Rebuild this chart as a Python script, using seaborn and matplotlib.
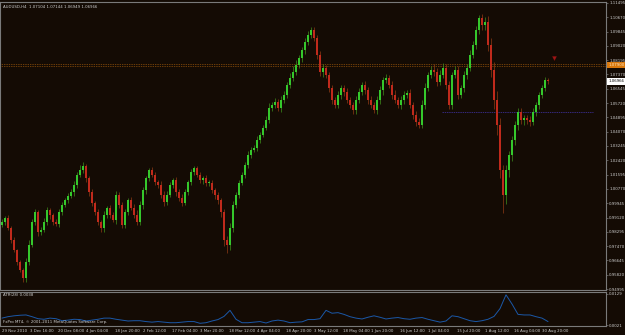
import numpy as np
import pandas as pd
import matplotlib
matplotlib.use("Agg")
import matplotlib.pyplot as plt
import seaborn as sns

sns.set_theme(style="dark")
plt.rcParams['font.family'] = ['DejaVu Sans']

# ---------------- data ----------------
first_open = 0.9870
closes = [
 0.9886,0.9909,0.9851,0.9782,0.9724,0.9655,0.9609,0.9563,0.9655,0.9753,
 0.9886,0.9944,0.9828,0.9840,0.9886,0.9955,0.9926,0.9886,0.9875,0.9944,
 0.9984,1.0013,1.0036,1.0059,1.0100,1.0157,1.0186,1.0209,1.0140,1.0059,
 0.9996,0.9944,0.9886,0.9851,0.9926,0.9967,0.9926,0.9898,1.0042,0.9984,
 0.9869,0.9944,1.0013,0.9967,0.9926,0.9886,0.9984,1.0071,1.0140,1.0186,
 1.0157,1.0117,1.0100,1.0042,1.0001,1.0042,1.0100,1.0128,1.0059,1.0025,
 0.9996,1.0059,1.0117,1.0175,1.0198,1.0157,1.0128,1.0140,1.0111,1.0111,
 1.0071,1.0042,1.0013,0.9944,0.9782,0.9753,0.9851,0.9984,1.0042,1.0111,
 1.0157,1.0215,1.0273,1.0302,1.0313,1.0359,1.0388,1.0428,1.0475,1.0544,
 1.0561,1.0578,1.0544,1.0590,1.0619,1.0677,1.0717,1.0752,1.0792,1.0832,
 1.0879,1.0925,1.0965,1.0994,1.0948,1.0850,1.0752,1.0775,1.0734,1.0659,
 1.0590,1.0561,1.0619,1.0659,1.0636,1.0590,1.0561,1.0532,1.0590,1.0636,
 1.0677,1.0648,1.0590,1.0561,1.0532,1.0590,1.0648,1.0705,1.0717,1.0677,
 1.0619,1.0590,1.0561,1.0590,1.0619,1.0630,1.0561,1.0503,1.0463,1.0446,
 1.0561,1.0659,1.0734,1.0763,1.0752,1.0694,1.0734,1.0775,1.0677,1.0561,
 1.0734,1.0763,1.0619,1.0659,1.0734,1.0775,1.0850,1.0907,1.0994,1.1063,
 1.1023,1.1040,1.0907,1.0763,1.0590,1.0446,1.0186,1.0042,1.0186,1.0273,
 1.0359,1.0446,1.0521,1.0475,1.0486,1.0475,1.0463,1.0521,1.0561,1.0619,
 1.0659,1.0705,1.0697]
wick_up_pips = [
 18,12,20,10,15,8,12,10,25,30,
 20,15,12,18,22,15,10,14,20,16,
 18,12,15,20,25,18,30,22,12,10,
 15,12,18,14,25,12,16,20,22,15,
 18,15,12,20,25,30,22,15,12,14,
 16,18,12,20,25,22,15,12,18,16,
 20,15,14,18,12,10,15,12,20,18,
 15,12,16,10,18,25,30,22,20,18,
 15,20,25,15,18,22,16,15,25,28,
 20,22,18,25,20,18,30,35,28,20,
 18,22,25,17,15,18,22,25,18,15,
 20,18,22,16,20,25,18,15,20,22,
 18,20,15,22,18,25,20,16,22,18,
 25,28,18,20,22,18,25,20,22,25,
 30,28,18,22,35,25,28,30,20,25,
 20,22,25,20,22,25,28,25,22,17,
 25,30,35,40,45,50,40,30,28,25,
 25,20,22,25,18,20,25,22,20,18,
 18,15,12]
wick_dn_pips = [
 15,20,12,18,10,15,12,23,20,15,
 12,18,20,15,12,18,22,15,12,18,
 15,12,18,14,20,15,12,18,22,25,
 20,15,18,25,20,15,18,12,22,18,
 15,20,18,12,15,18,20,25,22,15,
 12,18,20,15,22,18,12,15,20,18,
 15,12,18,20,15,12,18,22,15,20,
 18,22,25,30,35,46,30,20,18,15,
 12,18,15,20,12,15,18,14,12,15,
 20,18,15,22,18,20,18,15,20,18,
 22,25,18,20,18,22,25,28,20,25,
 22,18,20,25,22,18,20,25,22,18,
 20,22,25,18,20,22,25,28,20,18,
 22,18,20,25,22,20,18,25,22,20,
 18,22,20,18,22,25,20,18,22,25,
 22,20,25,18,22,25,20,18,22,25,
 30,28,35,40,50,60,45,104,50,40,
 35,30,28,25,30,25,22,20,25,22,
 18,20,15]
atr_values = [
 0.0045,0.0050,0.0053,0.0055,0.0056,0.0050,0.0043,0.0041,0.0045,0.0043,
 0.0036,0.0038,0.0041,0.0040,0.0035,0.0038,0.0041,0.0045,0.0045,0.0041,
 0.0038,0.0035,0.0036,0.0036,0.0033,0.0031,0.0033,0.0031,0.0029,0.0029,
 0.0031,0.0033,0.0033,0.0027,0.0029,0.0035,0.0040,0.0051,0.0072,0.0041,
 0.0029,0.0029,0.0031,0.0033,0.0028,0.0035,0.0038,0.0035,0.0029,0.0031,
 0.0032,0.0040,0.0040,0.0043,0.0072,0.0062,0.0064,0.0058,0.0050,0.0045,
 0.0042,0.0048,0.0053,0.0048,0.0042,0.0045,0.0047,0.0043,0.0041,0.0045,
 0.0047,0.0041,0.0036,0.0031,0.0035,0.0053,0.0050,0.0043,0.0036,0.0033,
 0.0036,0.0041,0.0051,0.0078,0.0126,0.0094,0.0058,0.0056,0.0056,0.0050,
 0.0045,0.0033]
price_ticks = [1.11495,1.10670,1.09845,1.09020,1.08195,1.07370,1.06545,1.05720,
               1.04895,1.04070,1.03245,1.02420,1.01595,1.00770,0.99945,0.99120,
               0.98295,0.97470,0.96645,0.95820,0.94995]
date_labels = ["29 Nov 2010","3 Dec 16:00","20 Dec 08:00","4 Jan 04:00","18 Jan 20:00",
               "2 Feb 12:00","17 Feb 04:00","3 Mar 20:00","18 Mar 12:00","4 Apr 04:00",
               "18 Apr 20:00","3 May 12:00","18 May 04:00","1 Jun 20:00","16 Jun 12:00",
               "1 Jul 04:00","15 Jul 20:00","1 Aug 12:00","16 Aug 04:00","30 Aug 20:00"]
date_pos = [0,9.33,18.67,28,37.67,47,56.67,66,75.67,85,94.67,104,113.67,123,132.67,
            142,151.67,161,170.67,180]
orange_levels = [1.0796, 1.0784]
orange_label = 1.07900
purple_level = 1.0520
purple_from = 146.7
alert_bar, alert_price = 184, 1.0834
atr_ticks = [0.0129, 0.0021]
header = "AUDUSD,H4  1.07104 1.07144 1.06949 1.06966"
last_price = 1.06966

# ---------------- derived frame ----------------
df = pd.DataFrame({"close": closes})
df["idx"] = np.arange(len(df))
df["open"] = [first_open] + closes[:-1]
df["high"] = df[["open", "close"]].max(axis=1) + np.array(wick_up_pips) * 1e-4
df["low"] = df[["open", "close"]].min(axis=1) - np.array(wick_dn_pips) * 1e-4
df["up"] = df["close"] >= df["open"]
atr_df = pd.DataFrame({"idx": df["idx"].values[::2][:len(atr_values)], "atr": atr_values})

# ---------------- style ----------------
BG = "#140b04"
GRID = "#7a7a7a"
TXT = "#cfcfcf"
UP_B, UP_W = "#35c82c", "#3f8f1c"
DN_B, DN_W = "#c02a1c", "#8f3a14"
FS = 2.75

W, H = 625, 335
fig = plt.figure(figsize=(W / 100, H / 100), dpi=100, facecolor=BG)
ax = fig.add_axes([0, 1 - 290 / H, 606 / W, 288 / H], facecolor=BG)
ax2 = fig.add_axes([0, 1 - 326 / H, 606 / W, 34 / H], facecolor=BG)

xl = (-0.667, 201.33)
YL = (0.9494, 1.1155)

# candles
for up, bw, ww in [(True, UP_B, UP_W), (False, DN_B, DN_W)]:
    d = df[df["up"] == up]
    ax.vlines(d["idx"], d["low"], d["high"], color=ww, lw=0.5, zorder=2)
    ax.bar(d["idx"], (d["close"] - d["open"]).abs().clip(lower=0.0004),
           bottom=d[["open", "close"]].min(axis=1), width=0.5, color=bw,
           edgecolor="none", zorder=3)

for lv in orange_levels:
    ax.axhline(lv, color="#c8700e", lw=0.5, ls=(0, (1.0, 1.5)), zorder=1)
ax.hlines(purple_level, purple_from, 197, color="#34287a", lw=0.7, ls=(0, (1.5, 0.8)), zorder=1)
sns.scatterplot(x=[alert_bar], y=[alert_price], ax=ax, marker="v", s=8,
                color="#a01515", edgecolor="#a01515", zorder=4, legend=False)

ax.set_xlim(*xl)
ax.set_ylim(*YL)
ax.set_xticks([])
ax.yaxis.tick_right()
ax.set_yticks(price_ticks)
ax.set_yticklabels([f"{v:.5f}" for v in price_ticks])
ax.tick_params(axis="y", colors=GRID, labelcolor=TXT, labelsize=FS, length=1.5,
               width=0.5, pad=0.8, direction="out")
ax.grid(False)
for s in ["top", "left", "right", "bottom"]:
    ax.spines[s].set_visible(True)
    ax.spines[s].set_color(GRID)
    ax.spines[s].set_linewidth(0.8)

# price labels on axis
ax.text(1.004, (orange_label - YL[0]) / (YL[1] - YL[0]), f"{orange_label:.5f}", transform=ax.transAxes,
        va="center", ha="left", fontsize=FS, color="#ffe6c0",
        bbox=dict(boxstyle="square,pad=0.3", fc="#d9780c", ec="none"), zorder=6, clip_on=False)
ax.text(1.004, (last_price - YL[0]) / (YL[1] - YL[0]), f"{last_price:.5f}", transform=ax.transAxes,
        va="center", ha="left", fontsize=FS, color="#000000",
        bbox=dict(boxstyle="square,pad=0.3", fc="#ffffff", ec="none"), zorder=6, clip_on=False)

# ATR
sns.lineplot(data=atr_df, x="idx", y="atr", ax=ax2, color="#1b58a8", lw=0.7, legend=False)
ax2.set_xlim(*xl)
ax2.set_ylim(0.00176, 0.01358)
ax2.set_xlabel("")
ax2.set_ylabel("")
ax2.yaxis.tick_right()
ax2.set_yticks(atr_ticks)
ax2.set_yticklabels([f"{v:.4f}" for v in atr_ticks])
ax2.set_xticks(date_pos)
ax2.set_xticklabels(date_labels, ha="left")
ax2.tick_params(axis="both", colors=GRID, labelcolor=TXT, labelsize=FS, length=1.5,
                width=0.5, pad=0.8, direction="out")
ax2.grid(False)
for s in ["top", "left", "right", "bottom"]:
    ax2.spines[s].set_visible(True)
    ax2.spines[s].set_color(GRID)
    ax2.spines[s].set_linewidth(0.8)

fig.text(3 / W, 1 - 5 / H, header, va="top", ha="left", fontsize=FS, color=TXT)
fig.text(3 / W, 1 - 293 / H, "ATR(28) 0.0038", va="top", ha="left", fontsize=FS, color=TXT)
fig.text(3 / W, 1 - 320 / H, "FxPro MT4, © 2001-2011 MetaQuotes Software Corp.", va="top",
         ha="left", fontsize=FS, color=TXT)

fig.savefig("out.png", dpi=100, facecolor=BG)
